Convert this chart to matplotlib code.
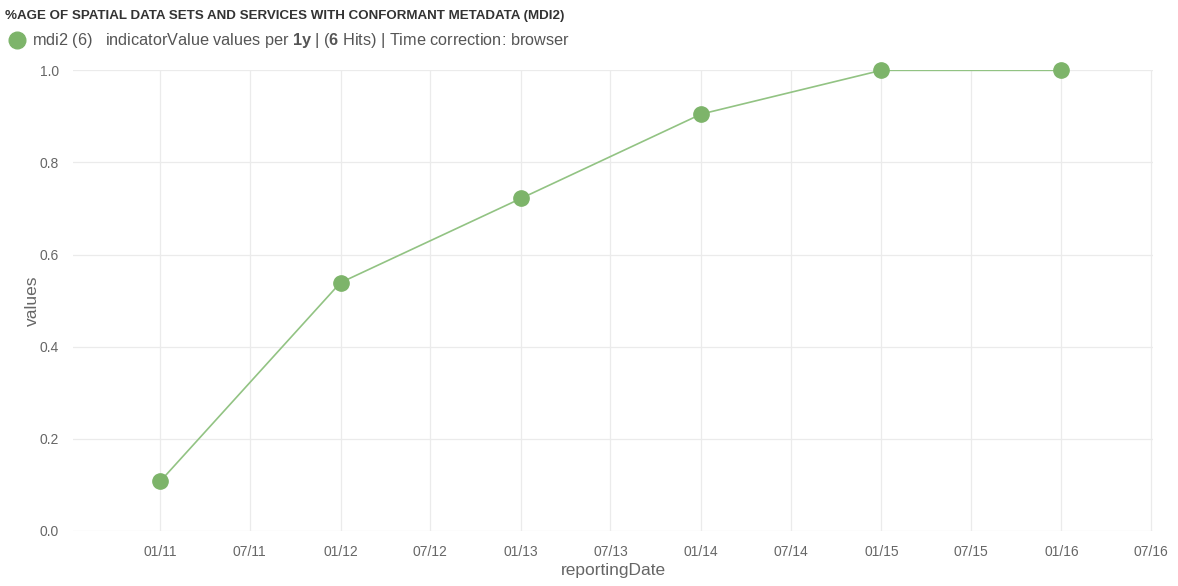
"""
Conformant metadata indicator (MDI2) over time
"""

import datetime as dt

import matplotlib

matplotlib.use("Agg")
import matplotlib.dates as mdates
import matplotlib.pyplot as plt
from matplotlib.lines import Line2D

plt.rcParams["font.family"] = ["Liberation Sans", "DejaVu Sans"]
plt.rcParams["mathtext.fontset"] = "custom"
plt.rcParams["mathtext.rm"] = "Liberation Sans"
plt.rcParams["mathtext.bf"] = "Liberation Sans:bold"

## data
report_dates = ["2011-01-01", "2012-01-01", "2013-01-01", "2014-01-01", "2015-01-01", "2016-01-01"]
mdi2_values = [0.108, 0.539, 0.722, 0.905, 1.0, 1.0]
tick_dates = ["2011-01-01", "2011-07-01", "2012-01-01", "2012-07-01", "2013-01-01", "2013-07-01",
              "2014-01-01", "2014-07-01", "2015-01-01", "2015-07-01", "2016-01-01", "2016-07-01"]
y_ticks = [0.0, 0.2, 0.4, 0.6, 0.8, 1.0]

title = "%AGE OF SPATIAL DATA SETS AND SERVICES WITH CONFORMANT METADATA (MDI2)"
legend_text = (r"mdi2 (6)   indicatorValue values per $\mathbf{1y}$ | ($\mathbf{6}$ Hits)"
               " | Time correction: browser")


def to_dates(lst):
    return [dt.datetime.strptime(s, "%Y-%m-%d") for s in lst]


def plot_data() -> None:
    line_color = "#92c383"
    dot_color = "#7db46a"

    fig = plt.figure(figsize=(11.78, 5.86), dpi=100)
    ax = fig.add_axes([0.062, 0.094, 0.917, 0.786])

    x = to_dates(report_dates)
    ax.plot(x, mdi2_values, color=line_color, lw=1.2, zorder=3)
    ax.plot(x, mdi2_values, "o", color=dot_color, ms=11, zorder=4, clip_on=False)

    ax.set_xlim(dt.datetime(2010, 7, 8), dt.datetime(2016, 7, 5))
    ax.set_ylim(0.0, 1.0)
    ax.set_xticks(to_dates(tick_dates))
    ax.xaxis.set_major_formatter(mdates.DateFormatter("%m/%y"))
    ax.set_yticks(y_ticks)
    ax.set_yticklabels([f"{v:.1f}" for v in y_ticks])

    ax.grid(True, color="#ebebeb", lw=0.9)
    ax.set_axisbelow(True)
    for s in ax.spines.values():
        s.set_visible(False)
    ax.tick_params(length=0, labelsize=10, labelcolor="#666666", pad=10)
    ax.set_xlabel("reportingDate", fontsize=12.5, color="#666666", labelpad=3)
    ax.set_ylabel("values", fontsize=12.5, color="#666666", labelpad=0)

    fig.text(0.004, 0.973, title, fontsize=9.6, fontweight="bold", color="#333333",
             va="center", ha="left")
    fig.add_artist(Line2D([0.0145], [0.931], marker="o", ms=12, color=dot_color,
                          transform=fig.transFigure))
    fig.text(0.027, 0.931, legend_text, fontsize=11.7, color="#555555",
             va="center", ha="left")

    fig.savefig("out.png", dpi=100)


if __name__ == "__main__":
    plot_data()
